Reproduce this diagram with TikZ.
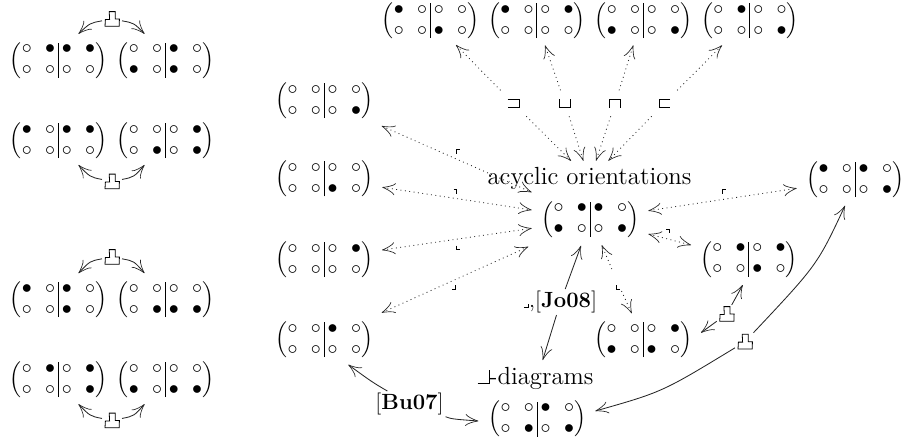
\documentclass[tikz,border=0pt]{standalone}
\usetikzlibrary{arrows.meta}
\newcommand{\cellO}{\lower0.6pt\hbox{$\circ$}}
\newcommand{\cellX}{\lower0.6pt\hbox{$\bullet$}}
\newcommand{\mtx}[8]{$\vrule width 0pt height 12.5pt\left(\renewcommand{\arraystretch}{0.583}\begin{array}{@{}c@{\hspace{6.7pt}}c@{\hspace{1.55pt}}|@{\hspace{1.55pt}}c@{\hspace{6.7pt}}c@{}}#1&#2&#3&#4\\[3.5pt]#5&#6&#7&#8\end{array}\right)$}
\newcommand{\Ile}{\rule{5.5pt}{0.45pt}\rule{0.45pt}{7pt}}
\tikzset{
 mx/.style={inner sep=0pt,outer sep=0pt},
 tipped/.style={line width=0.42pt,draw=black!85,arrows={Classical TikZ Rightarrow[length=6.5pt,width=6pt]-Classical TikZ Rightarrow[length=6.5pt,width=6pt]}},
 onetip/.style={line width=0.42pt,draw=black!85,arrows={-Classical TikZ Rightarrow[length=6.5pt,width=6pt]}},
 dots/.style={line width=0.42pt,draw=black!85,dash pattern=on 0.45pt off 1.75pt},
 hole/.style={inner sep=0pt,outer sep=0pt,minimum size=#1},
 glyph/.style={line width=0.5pt},
 lab/.style={inner sep=0pt,outer sep=1pt,font=\fontsize{11}{13}\selectfont},
 thumb/.style={inner sep=0pt,minimum width=10pt,minimum height=9pt,outer sep=0pt,
   path picture={\draw[line width=0.4pt,shift={(path picture bounding box.center)}] (-3.5pt,-3.6pt) -- (-3.3pt,-0.2pt) -- (-1.2pt,-0.2pt) -- (-1.4pt,3.7pt) -- (1.6pt,3.7pt) -- (1.6pt,0pt) -- (3.7pt,0pt) -- (3.6pt,-3.6pt) -- cycle;}}
}
\newcommand{\thumbnode}[2]{\node[thumb] (#1) at (#2) {};}
\begin{document}
\begin{tikzpicture}[x=0.5pt,y=-0.5pt]
\useasboundingbox (0,0) rectangle (903,441);
% left column
\node[mx] (a1) at (58.5,59.3) {\mtx{\cellO}{\cellX}{\cellX}{\cellX}{\cellO}{\cellO}{\cellO}{\cellO}};
\node[mx] (a2) at (165.5,59.3) {\mtx{\cellO}{\cellO}{\cellX}{\cellO}{\cellX}{\cellO}{\cellX}{\cellO}};
\node[mx] (b1) at (58.5,139.5) {\mtx{\cellX}{\cellO}{\cellX}{\cellX}{\cellO}{\cellO}{\cellO}{\cellO}};
\node[mx] (b2) at (165.5,139.5) {\mtx{\cellO}{\cellO}{\cellO}{\cellX}{\cellO}{\cellX}{\cellO}{\cellX}};
\node[mx] (c1) at (58.5,298.7) {\mtx{\cellX}{\cellO}{\cellX}{\cellO}{\cellO}{\cellO}{\cellX}{\cellO}};
\node[mx] (c2) at (165.5,298.7) {\mtx{\cellO}{\cellO}{\cellO}{\cellO}{\cellO}{\cellX}{\cellX}{\cellX}};
\node[mx] (d1) at (58.5,378.7) {\mtx{\cellO}{\cellX}{\cellO}{\cellX}{\cellO}{\cellO}{\cellO}{\cellX}};
\node[mx] (d2) at (165.5,378.7) {\mtx{\cellO}{\cellO}{\cellO}{\cellO}{\cellX}{\cellO}{\cellX}{\cellX}};
% top row
\node[mx] (t1) at (430.5,19.7) {\mtx{\cellX}{\cellO}{\cellO}{\cellO}{\cellO}{\cellO}{\cellX}{\cellO}};
\node[mx] (t2) at (537,19.7) {\mtx{\cellX}{\cellO}{\cellO}{\cellX}{\cellO}{\cellO}{\cellO}{\cellO}};
\node[mx] (t3) at (643.5,19.7) {\mtx{\cellO}{\cellO}{\cellO}{\cellO}{\cellX}{\cellO}{\cellO}{\cellX}};
\node[mx] (t4) at (750,19.7) {\mtx{\cellO}{\cellX}{\cellO}{\cellO}{\cellO}{\cellO}{\cellO}{\cellX}};
% left fan
\node[mx] (l1) at (324.3,99.7) {\mtx{\cellO}{\cellO}{\cellO}{\cellO}{\cellO}{\cellO}{\cellO}{\cellX}};
\node[mx] (l2) at (324.3,177.8) {\mtx{\cellO}{\cellO}{\cellO}{\cellO}{\cellO}{\cellO}{\cellX}{\cellO}};
\node[mx] (l3) at (324.3,258.5) {\mtx{\cellO}{\cellO}{\cellO}{\cellX}{\cellO}{\cellO}{\cellO}{\cellO}};
\node[mx] (l4) at (324.3,338.7) {\mtx{\cellO}{\cellO}{\cellX}{\cellO}{\cellO}{\cellO}{\cellO}{\cellO}};
% centre and right
\node[mx] (cm) at (590.3,218.3) {\mtx{\cellO}{\cellX}{\cellX}{\cellO}{\cellX}{\cellO}{\cellO}{\cellX}};
\node[mx] (r1) at (855.3,178.7) {\mtx{\cellX}{\cellO}{\cellX}{\cellO}{\cellO}{\cellO}{\cellO}{\cellX}};
\node[mx] (r2) at (749,258.3) {\mtx{\cellO}{\cellX}{\cellO}{\cellX}{\cellO}{\cellO}{\cellX}{\cellO}};
\node[mx] (r3) at (643.3,338.7) {\mtx{\cellO}{\cellO}{\cellO}{\cellX}{\cellX}{\cellO}{\cellX}{\cellO}};
\node[mx] (bt) at (537.3,418) {\mtx{\cellO}{\cellO}{\cellX}{\cellO}{\cellO}{\cellX}{\cellO}{\cellX}};
% text labels
\node[lab,font=\fontsize{12.4}{14}\selectfont] (acy) at (589.5,178) {acyclic orientations};
\node[lab,font=\fontsize{12.4}{14}\selectfont] (led) at (535.5,378) {\Ile-diagrams};
\node[lab] (jo) at (560.5,302) {\rule{2.2pt}{0.4pt}\rule{0.4pt}{2pt},[\textbf{Jo08}]};
\node[lab] (bu) at (409.5,404) {[\textbf{Bu07}]};
% left column thumbs
\thumbnode{ta}{112,19}
\thumbnode{tb}{112,181.5}
\thumbnode{tc}{112,257}
\thumbnode{td}{112,420.5}
\draw[onetip] (ta) .. controls (90,23) .. ([shift={(20,-25.5)}]a1.center);
\draw[onetip] (ta) .. controls (134,23) .. ([shift={(-21,-25.5)}]a2.center);
\draw[onetip] (tb) .. controls (90,177) .. ([shift={(20,25.5)}]b1.center);
\draw[onetip] (tb) .. controls (134,177) .. ([shift={(-21,25.5)}]b2.center);
\draw[onetip] (tc) .. controls (90,261) .. ([shift={(20,-25.5)}]c1.center);
\draw[onetip] (tc) .. controls (134,261) .. ([shift={(-21,-25.5)}]c2.center);
\draw[onetip] (td) .. controls (90,416) .. ([shift={(20,25.5)}]d1.center);
\draw[onetip] (td) .. controls (134,416) .. ([shift={(-21,25.5)}]d2.center);
% top fan with glyph labels
\node[hole=13pt] (g1) at (513.3,103.3) {};
\node[hole=13pt] (g2) at (565,103.3) {};
\node[hole=13pt] (g3) at (615,103.3) {};
\node[hole=13pt] (g4) at (664.3,103.3) {};
\draw[glyph] (507.5,99) -- (519,99) -- (519,107.5) -- (507.5,107.5);
\draw[glyph] (559.3,99) -- (559.3,107.5) -- (570.5,107.5) -- (570.5,99);
\draw[glyph] (609.5,107.5) -- (609.5,99) -- (620.5,99) -- (620.5,107.5);
\draw[glyph] (670,99) -- (659.5,99) -- (659.5,107.5) -- (670,107.5);
\foreach \g/\t/\sx/\sy/\ex/\ey in {g1/t1/25.5/25.3/-19.3/-57.5,g2/t2/8/25.6/-7/-57.5,g3/t3/-10.2/25.6/5.7/-57.5,g4/t4/-28/25.6/18/-57.5}{
 \draw[dots,onetip,dots] (\g) -- ([shift={(\sx,\sy)}]\t.center);
 \draw[dots,onetip,dots] (\g) -- ([shift={(\ex,\ey)}]cm.center);
}
% left fan
\draw[dots,tipped,dots] ([shift={(57.4,26.3)}]l1.center) -- ([shift={(-58.6,-26)}]cm.center);
\draw[dots,tipped,dots] ([shift={(58,9.5)}]l2.center) -- ([shift={(-58.6,-8.3)}]cm.center);
\draw[dots,tipped,dots] ([shift={(57.7,-8.5)}]l3.center) -- ([shift={(-58.6,10)}]cm.center);
\draw[dots,tipped,dots] ([shift={(57.4,-26)}]l4.center) -- ([shift={(-62,28.4)}]cm.center);
% right fan
\draw[dots,tipped,dots] ([shift={(58,-7.6)}]cm.center) -- ([shift={(-58.6,9.6)}]r1.center);
\draw[dots,tipped,dots] ([shift={(58,15.7)}]cm.center) -- ([shift={(-58,-13.3)}]r2.center);
\node[hole=11pt] (hr) at (616.5,280) {};
\draw[dots,onetip,dots] (hr) -- ([shift={(11.4,26.7)}]cm.center);
\draw[dots,onetip,dots] (hr) -- ([shift={(-11.6,-25.4)}]r3.center);
% small corner glyphs
\draw[glyph] (456,153.5) -- (456,149.5) -- (459.5,149.5);
\draw[glyph] (453.5,189.5) -- (456.5,189.5) -- (456.5,193.5);
\draw[glyph] (456,245.5) -- (456,249.5) -- (459.5,249.5);
\draw[glyph] (452,289) -- (455.5,289) -- (455.5,285);
\draw[glyph] (722.5,193.5) -- (722.5,189.5) -- (726,189.5);
\draw[glyph] (666,229.5) -- (669.5,229.5) -- (669.5,233);
\draw[glyph] (616.5,285) -- (616.5,289) -- (620,289);
% Jo08
\draw[onetip] (jo) -- ([shift={(-9.3,27.4)}]cm.center);
\draw[onetip] (jo) -- ([shift={(7.2,-18)}]led.center);
% Bu07
\draw[onetip] (bu) .. controls (372,382) .. ([shift={(24,26)}]l4.center);
\draw[onetip] (bu) .. controls (452,419) .. ([shift={(-59,3)}]bt.center);
% thumb arrows
\thumbnode{te}{726.7,314}
\thumbnode{tf}{745,341.7}
\draw[onetip] (te) -- ([shift={(57.7,-6)}]r3.center);
\draw[onetip] (te) -- ([shift={(-6.3,26.7)}]r2.center);
\draw[onetip] (tf) .. controls (662.3,392) .. ([shift={(58,-7)}]bt.center);
\draw[onetip] (tf) .. controls (817.3,264.8) .. ([shift={(-10.3,27)}]r1.center);
\end{tikzpicture}
\end{document}
